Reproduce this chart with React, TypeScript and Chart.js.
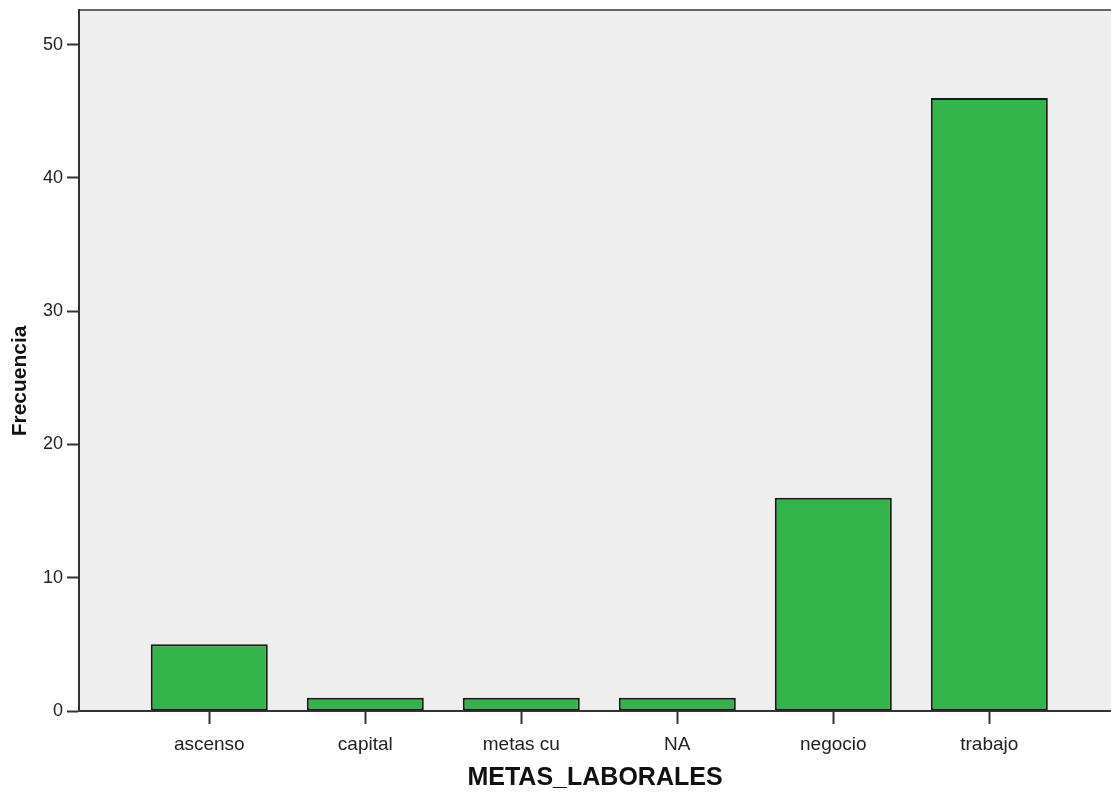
import React, { useEffect, useRef } from "react";
import { Chart, registerables } from "chart.js";

Chart.register(...registerables);

const categories = ["ascenso", "capital", "metas cu", "NA", "negocio", "trabajo"];
const frequencies = [5, 1, 1, 1, 16, 46];
const yTicks = [0, 10, 20, 30, 40, 50];
const xTitle = "METAS_LABORALES";
const yTitle = "Frecuencia";

const plotFrame = {
  id: "plotFrame",
  beforeDraw(chart: any) {
    const { ctx, chartArea } = chart;
    ctx.save();
    ctx.fillStyle = "#EEEEEE";
    ctx.fillRect(chartArea.left, chartArea.top, chartArea.right - chartArea.left, chartArea.bottom - chartArea.top);
    ctx.restore();
  },
  afterDraw(chart: any) {
    const { ctx, chartArea } = chart;
    ctx.save();
    ctx.strokeStyle = "#333333";
    ctx.lineWidth = 1.5;
    ctx.beginPath();
    ctx.moveTo(chartArea.left, chartArea.top);
    ctx.lineTo(chartArea.right, chartArea.top);
    ctx.stroke();
    ctx.restore();
  },
};

export default function App() {
  const ref = useRef<HTMLCanvasElement | null>(null);

  useEffect(() => {
    if (!ref.current) return;
    const chart = new Chart(ref.current, {
      type: "bar",
      data: {
        datasets: [
          {
            data: categories.map((_, i) => ({ x: i, y: frequencies[i] })),
            backgroundColor: "#33B44A",
            borderColor: "#1A1A1A",
            borderWidth: 2,
            borderSkipped: false,
            barPercentage: 0.75,
            categoryPercentage: 1,
          } as any,
        ],
      },
      options: {
        animation: false,
        responsive: true,
        maintainAspectRatio: false,
        layout: { padding: { top: 10, right: 0, left: 0, bottom: 0 } },
        plugins: { legend: { display: false }, tooltip: { enabled: false } },
        scales: {
          x: {
            type: "linear",
            offset: false,
            min: -0.835,
            max: 5.78,
            afterFit(scale: any) {
              scale.height = 82;
              scale.paddingLeft = 0;
              scale.paddingRight = 0;
            },
            afterBuildTicks(scale: any) {
              scale.ticks = categories.map((_, i) => ({ value: i }));
            },
            ticks: {
              autoSkip: false,
              maxRotation: 0,
              includeBounds: false,
              padding: 9,
              color: "#222222",
              font: { family: "'Liberation Sans', Arial, sans-serif", size: 19 },
              callback: (v: any) => categories[v] ?? "",
            },
            grid: {
              display: true,
              offset: false,
              drawOnChartArea: false,
              drawTicks: true,
              tickLength: 13,
              tickColor: "#333333",
              tickWidth: 2,
            },
            border: { display: true, color: "#333333", width: 2 },
            title: {
              display: true,
              text: xTitle,
              color: "#111111",
              padding: { top: 0, bottom: 0 },
              font: { family: "'Liberation Sans', Arial, sans-serif", size: 25, weight: "bold" },
            },
          },
          y: {
            min: 0,
            max: 52.6,
            afterFit(scale: any) {
              scale.width = 79;
              scale.paddingTop = 0;
              scale.paddingBottom = 0;
            },
            afterBuildTicks(scale: any) {
              scale.ticks = yTicks.map((v) => ({ value: v }));
            },
            ticks: {
              includeBounds: false,
              stepSize: 10,
              padding: 4,
              color: "#222222",
              font: { family: "'Liberation Sans', Arial, sans-serif", size: 18 },
            },
            grid: {
              display: true,
              drawOnChartArea: false,
              drawTicks: true,
              tickLength: 12,
              tickColor: "#333333",
              tickWidth: 2,
            },
            border: { display: true, color: "#333333", width: 2 },
            title: {
              display: true,
              text: yTitle + "       ",
              color: "#111111",
              padding: { top: 8, bottom: 0 },
              font: { family: "'Liberation Sans', Arial, sans-serif", size: 21, weight: "bold" },
            },
          },
        },
      },
      plugins: [plotFrame],
    });
    return () => chart.destroy();
  }, []);

  return (
    <div style={{ position: "absolute", left: 0, top: 0, width: 1111, height: 793, background: "#FFFFFF" }}>
      <canvas ref={ref} />
    </div>
  );
}
